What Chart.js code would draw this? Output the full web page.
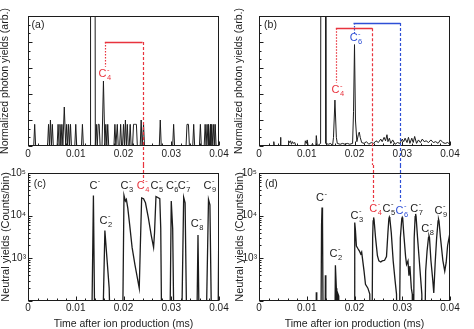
<!DOCTYPE html>
<html><head><meta charset="utf-8">
<script src="https://cdn.jsdelivr.net/npm/chart.js@4.4.1/dist/chart.umd.min.js"></script>
<style>
html,body{margin:0;padding:0;background:#fff;}
body{width:474px;height:329px;position:relative;overflow:hidden;}
canvas{position:absolute;}
</style></head><body>
<canvas id="ca" style="left:0;top:0" width="234" height="165"></canvas>
<canvas id="cb" style="left:234px;top:0" width="240" height="165"></canvas>
<canvas id="cc" style="left:0;top:165px" width="234" height="164"></canvas>
<canvas id="cd" style="left:234px;top:165px" width="240" height="164"></canvas>
<script>
// ---------------- data ----------------
const xTicks = [0, 0.01, 0.02, 0.03, 0.04];
const xTickLabels = ['0', '0.01', '0.02', '0.03', '0.04'];
const logTicks = [1000, 10000, 100000];
const logTickLabels = ['10\u00B3', '10\u2074', '10\u2075'];

// (a) photon yields, C4- only
const timeA = [
  0, 0.0012, 0.0014, 0.0016,
  0.0041, 0.0043, 0.0045, 0.0047, 0.0049, 0.0051, 0.0053,
  0.0061, 0.0063, 0.0065, 0.0067, 0.0069, 0.0071, 0.0073, 0.0076, 0.0079, 0.0081, 0.0083, 0.0085, 0.0087, 0.0089, 0.0091,
  0.0098, 0.0100, 0.0102, 0.0112, 0.0114, 0.0116,
  0.0130, 0.0131, 0.0140, 0.0141, 0.0143, 0.0145, 0.0147, 0.0149, 0.0151,
  0.0155, 0.0158, 0.0161, 0.0163, 0.0165, 0.0167, 0.0169,
  0.0180, 0.0182, 0.0184, 0.0187, 0.0189, 0.0192, 0.0194, 0.0196, 0.0198, 0.0200, 0.0202, 0.0204, 0.0206, 0.0208, 0.0210,
  0.0212, 0.0214, 0.0216, 0.0219, 0.0221, 0.0223, 0.0225, 0.0227, 0.0229, 0.0235, 0.0237, 0.0239, 0.0240, 0.0242, 0.0244,
  0.0275, 0.0277, 0.0279, 0.0303, 0.0305, 0.0307,
  0.0331, 0.0333, 0.0336, 0.0338, 0.0345, 0.0347, 0.0349, 0.0359, 0.0361, 0.0363,
  0.0369, 0.0371, 0.0373, 0.0375, 0.0377, 0.0378, 0.0380, 0.0382, 0.0383, 0.0385, 0.0387, 0.0389, 0.0391, 0.0392, 0.0394,
  0.0400
];
const yieldA = [
  0, 0, 2.5, 0,
  0, 2.5, 0, 3, 0, 2.5, 0,
  0, 2.5, 0, 2.5, 0, 2.5, 0, 4.5, 0, 2.5, 0, 2.5, 0, 2.5, 0,
  0, 2.5, 0, 0, 2.5, 0,
  0, 40, 40, 0, 2.5, 0, 2.5, 2.5, 0,
  0, 7.5, 0, 2.5, 0, 2.5, 0,
  0, 2.5, 0, 2.5, 0, 0, 2.5, 0, 0, 2.5, 0, 3, 0, 2.5, 0,
  0, 2.5, 0, 0, 2.5, 2.5, 2.5, 2.5, 0, 0, 3, 0, 0, 2.5, 0,
  0, 3, 0, 0, 2.5, 0,
  0, 2.5, 2.5, 0, 0, 2.5, 0, 0, 2.5, 0,
  0, 2.5, 0, 2.5, 0, 2.5, 0, 2.5, 0, 2.5, 0, 2.5, 0, 2.5, 0,
  0
];

// (b) photon yields, C4- and C6-
const timeB = [
  0, 0.0030, 0.0031, 0.0032, 0.0044, 0.0045, 0.0046,
  0.0061, 0.0062, 0.0064, 0.0066, 0.0068, 0.0070, 0.0072, 0.0075, 0.0077,
  0.0096, 0.0097, 0.0099, 0.0101, 0.0103, 0.0110, 0.0112, 0.0114, 0.0119, 0.0120, 0.0122,
  0.0129, 0.0130, 0.0139, 0.0140, 0.0145, 0.0150, 0.0154,
  0.0156, 0.0159, 0.0162, 0.0164, 0.0170, 0.0175, 0.0180, 0.0185, 0.0190, 0.0196,
  0.0198, 0.0200, 0.0202, 0.0205, 0.0208, 0.0210, 0.0212, 0.0215, 0.0220, 0.0225, 0.0230, 0.0235, 0.0240,
  0.0245, 0.0250, 0.0255, 0.0258, 0.0262, 0.0265, 0.0268, 0.0270, 0.0273, 0.0276, 0.0280, 0.0285, 0.0290, 0.0295,
  0.0300, 0.0303, 0.0306, 0.0310, 0.0313, 0.0316, 0.0320, 0.0323, 0.0326, 0.0330, 0.0334, 0.0338, 0.0342, 0.0346,
  0.0350, 0.0355, 0.0360, 0.0365, 0.0370, 0.0375, 0.0380, 0.0385, 0.0390, 0.0395, 0.0400
];
const yieldB = [
  0, 0, 0.5, 0, 0, 1.0, 0,
  0, 0.6, 0.4, 0.6, 0.2, 0.5, 0.3, 0.4, 0,
  0, 0.6, 0.3, 0.7, 0, 0, 0.3, 0, 0, 1.2, 0,
  0.3, 40, 40, 0.3, 0.2, 0.3, 0,
  1.0, 5.3, 1.0, 0.3, 0.2, 0.3, 0.2, 0.3, 0.2, 0.3,
  4.0, 11.7, 3.0, 0.5, 1.3, 1.6, 1.0, 0.4, 0.3, 0.5, 0.2, 0.4, 0.3,
  0.6, 0.4, 0.8, 0.5, 1.0, 0.6, 1.3, 0.5, 0.9, 0.3, 0.7, 0.2, 0.4, 0.3,
  0.8, 0.5, 0.9, 0.4, 1.0, 0.3, 0.9, 0.4, 1.1, 0.3, 0.7, 0.4, 0.8, 0.5,
  0.6, 0.4, 0.7, 0.4, 0.5, 0.3, 0.7, 0.4, 0.3, 0.4, 0.2
];

// (c) neutral yields (counts/bin), values below 100 lie off-axis
const timeC = [
  0, 0.0132, 0.0137, 0.0141,
  0.0154, 0.0161, 0.0166, 0.0170, 0.0175,
  0.0197, 0.0201, 0.0204, 0.0206, 0.0209, 0.0213, 0.0218, 0.0224, 0.0229, 0.0233,
  0.0235, 0.0238, 0.0242, 0.0246, 0.0252, 0.0258, 0.0263,
  0.0265, 0.0268, 0.0271, 0.0276, 0.0278, 0.0281,
  0.0296, 0.0300, 0.0303, 0.0307,
  0.0320, 0.0326, 0.0329, 0.0334,
  0.0352, 0.0356, 0.0360,
  0.0371, 0.0378, 0.0381, 0.0386,
  0.0397, 0.0400
];
const countsC = [
  1, 1, 29500, 1,
  1, 4500, 800, 200, 1,
  1, 30000, 22000, 24000, 15000, 6000, 1800, 700, 350, 200,
  1500, 26000, 25000, 20000, 9000, 3500, 1800,
  4000, 28000, 27000, 25000, 5000, 1,
  1, 22000, 5000, 1,
  1, 27000, 20000, 1,
  1, 3500, 1,
  1, 24000, 18000, 1,
  1, 20000
];

// (d) neutral yields (counts/bin)
const timeD = [
  0, 0.0119, 0.0120, 0.0121,
  0.0129, 0.0131, 0.0132, 0.0133, 0.0135, 0.0138, 0.0139, 0.0140,
  0.0158, 0.0160, 0.0162, 0.0163, 0.0165, 0.0167, 0.0169,
  0.0199, 0.0200, 0.0201, 0.0202, 0.0204, 0.0207, 0.0210, 0.0213, 0.0215, 0.0220, 0.0223, 0.0228, 0.0232, 0.0234,
  0.0236, 0.0238, 0.0239, 0.0240, 0.0241, 0.0244, 0.0248, 0.0251, 0.0255, 0.0258, 0.0263, 0.0267,
  0.0270, 0.0272, 0.0273, 0.0274, 0.0277, 0.0281, 0.0285, 0.0288, 0.0290,
  0.0293, 0.0296, 0.0299, 0.0300, 0.0301, 0.0303, 0.0307, 0.0309, 0.0312, 0.0314, 0.0316, 0.0319, 0.0321, 0.0322,
  0.0323, 0.0325, 0.0327, 0.0328, 0.0329, 0.0332, 0.0336, 0.0341, 0.0343,
  0.0346, 0.0349, 0.0352, 0.0355, 0.0356, 0.0357, 0.0360, 0.0364, 0.0366,
  0.0369, 0.0372, 0.0375, 0.0376, 0.0377, 0.0380, 0.0385, 0.0389, 0.0392, 0.0395, 0.0400
];
const countsD = [
  1, 1, 160, 1,
  1, 6000, 15600, 8000, 1, 1, 400, 1,
  1, 690, 200, 1, 150, 130, 1,
  1, 4000, 6900, 4500, 1950, 1700, 1500, 1260, 1400, 500, 245, 200, 145, 1,
  1, 3000, 7500, 9100, 8000, 3100, 1150, 870, 820, 870, 900, 1100,
  4000, 8500, 9300, 8500, 4000, 870, 300, 145, 1,
  1, 3000, 8500, 9100, 8500, 4000, 1100, 720, 870, 390, 660, 200, 145, 1,
  1, 3000, 9500, 11000, 9500, 3100, 800, 145, 1,
  1, 500, 1500, 3100, 3400, 3100, 900, 300, 155,
  800, 3000, 7500, 8300, 7500, 3100, 900, 500, 800, 2000, 4000
];

// ---------------- styling / drawing ----------------
const FONT = 'Arial, "Liberation Sans", Helvetica, sans-serif';
const INK = '#1c1c1c';
const RED = '#e8333d';
const BLUE = '#2e4fd6';

function pts(xs, ys) { return xs.map((x, i) => ({ x: x, y: ys[i] })); }

function drawIonLabel(ctx, cx, cy, n, color) {
  ctx.fillStyle = color;
  ctx.textBaseline = 'middle';
  ctx.textAlign = 'left';
  ctx.font = '11px ' + FONT;
  const wC = ctx.measureText('C').width;
  ctx.font = '7.5px ' + FONT;
  const wS = Math.max(ctx.measureText(n || '').width, ctx.measureText('-').width);
  const x0 = cx - (wC + wS + 0.5) / 2;
  ctx.font = '11px ' + FONT;
  ctx.fillText('C', x0, cy);
  ctx.font = '7.5px ' + FONT;
  ctx.fillText('-', x0 + wC + 0.5, cy - 4.5);
  if (n) ctx.fillText(n, x0 + wC + 0.5, cy + 4);
}

function decor(spec) {
  return {
    id: 'decor_' + spec.name,
    afterDraw(chart) {
      const ctx = chart.ctx, ca = chart.chartArea;
      const xs = chart.scales.x, ys = chart.scales.y;
      const H = chart.height;
      const yPix = v => v === 'top' ? 0 : (v === 'bottom' ? H : ys.getPixelForValue(v));
      ctx.save();
      // frame
      ctx.strokeStyle = INK; ctx.lineWidth = 1; ctx.setLineDash([]);
      const L = Math.round(ca.left) + 0.5, R = Math.round(ca.right) - 0.5;
      const T = Math.round(ca.top) + 0.5, B = Math.round(ca.bottom) - 0.5;
      ctx.strokeRect(L, T, R - L, B - T);
      // x inward ticks
      ctx.beginPath();
      for (let k = 0; k <= 20; k++) {
        const v = k * 0.002;
        const px = Math.round(xs.getPixelForValue(v)) + 0.5;
        const len = (k % 5 === 0) ? 4 : 2;
        ctx.moveTo(px, B); ctx.lineTo(px, B - len);
      }
      // y inward ticks
      if (spec.log) {
        for (let d = 2; d <= 4; d++) {
          for (let m = 1; m <= 9; m++) {
            const v = m * Math.pow(10, d);
            const py = Math.round(ys.getPixelForValue(v)) + 0.5;
            const len = m === 1 ? 4 : 2;
            ctx.moveTo(L, py); ctx.lineTo(L + len, py);
          }
        }
        const pt = Math.round(ys.getPixelForValue(1e5)) + 0.5;
        ctx.moveTo(L, pt); ctx.lineTo(L + 4, pt);
      } else {
        for (let v = 0; v <= 15; v++) {
          const py = Math.round(ys.getPixelForValue(v)) + 0.5;
          const len = (v % 3 === 0) ? 4 : 2;
          ctx.moveTo(L, py); ctx.lineTo(L + len, py);
        }
      }
      ctx.stroke();
      // vertical guide lines
      (spec.vlines || []).forEach(l => {
        ctx.strokeStyle = l.color; ctx.lineWidth = 1.2;
        ctx.setLineDash(l.dash);
        const px = Math.round(xs.getPixelForValue(l.x)) + 0.5;
        ctx.beginPath();
        ctx.moveTo(px, yPix(l.y1)); ctx.lineTo(px, yPix(l.y2));
        ctx.stroke();
      });
      ctx.setLineDash([]);
      // brackets
      (spec.brackets || []).forEach(b => {
        ctx.strokeStyle = b.color; ctx.lineWidth = 1.6;
        const py = Math.round(yPix(b.y)) + 0.5;
        ctx.beginPath();
        ctx.moveTo(xs.getPixelForValue(b.x1), py);
        ctx.lineTo(xs.getPixelForValue(b.x2), py);
        ctx.stroke();
      });
      // ion labels
      (spec.labels || []).forEach(lb => {
        drawIonLabel(ctx, xs.getPixelForValue(lb.x), yPix(lb.y), lb.n, lb.color || INK);
      });
      // panel tag
      ctx.fillStyle = INK; ctx.font = '10.5px ' + FONT;
      ctx.textAlign = 'center'; ctx.textBaseline = 'middle';
      ctx.fillText(spec.tag.text, xs.getPixelForValue(spec.tag.x), yPix(spec.tag.y));
      ctx.restore();
    }
  };
}

function makeChart(id, p) {
  const yScale = p.log ? {
    type: 'logarithmic', min: 100, max: 100000,
    grid: { display: false, drawTicks: false }, border: { display: false },
    afterBuildTicks: s => { s.ticks = logTicks.map(v => ({ value: v })); },
    ticks: { callback: (v, i) => logTickLabels[i], font: { family: FONT, size: 10 }, color: INK, padding: 2, autoSkip: false },
    title: { display: true, text: p.yTitle, font: { family: FONT, size: 11, lineHeight: 1 }, padding: 0, color: INK },
    afterFit: s => { s.width = p.yW; }
  } : {
    type: 'linear', min: 0, max: 15,
    grid: { display: false, drawTicks: false }, border: { display: false },
    ticks: { display: false },
    title: { display: true, text: p.yTitle, font: { family: FONT, size: 10.5, lineHeight: 1 }, padding: 0, color: INK },
    afterFit: s => { s.width = p.yW; }
  };
  return new Chart(document.getElementById(id), {
    type: 'line',
    data: { datasets: [{ data: pts(p.tx, p.ty), borderColor: INK, borderWidth: p.lw, pointRadius: 0, tension: 0, fill: false }] },
    options: {
      responsive: false, animation: false, devicePixelRatio: 1,
      layout: { padding: { left: 0, right: p.padR, top: p.padT, bottom: 0 } },
      plugins: { legend: { display: false }, tooltip: { enabled: false }, title: { display: false } },
      scales: {
        x: {
          type: 'linear', min: 0, max: 0.04,
          grid: { display: false, drawTicks: false }, border: { display: false },
          afterBuildTicks: s => { s.ticks = xTicks.map(v => ({ value: v })); },
          ticks: { callback: (v, i) => xTickLabels[i], font: { family: FONT, size: 10 }, color: INK, padding: p.xPad, maxRotation: 0, autoSkip: false },
          title: { display: p.xTitle, text: 'Time after ion production (ms)', font: { family: FONT, size: 10.5, lineHeight: 1 }, padding: 0, color: INK },
          afterFit: s => { s.height = p.xH; }
        },
        y: yScale
      }
    },
    plugins: [decor(p.decor)]
  });
}

makeChart('ca', {
  tx: timeA, ty: yieldA, lw: 1, log: false, yTitle: 'Normalized photon yields (arb.)',
  yW: 28, padR: 15, padT: 16, xH: 19, xPad: 2, xTitle: false,
  decor: {
    name: 'a', log: false, tag: { text: '(a)', x: 0.0021, y: 13.96 },
    brackets: [{ x1: 0.0161, x2: 0.0240, y: 12.0, color: RED }],
    vlines: [
      { x: 0.0161, y1: 12.0, y2: 9.15, color: RED, dash: [1.5, 1.5] },
      { x: 0.0240, y1: 12.0, y2: 'bottom', color: RED, dash: [3, 2] }
    ],
    labels: [{ x: 0.0161, y: 8.3, n: '4', color: RED }]
  }
});

makeChart('cb', {
  tx: timeB, ty: yieldB, lw: 1, log: false, yTitle: 'Normalized photon yields (arb.)',
  yW: 25, padR: 24, padT: 16, xH: 19, xPad: 2, xTitle: false,
  decor: {
    name: 'b', log: false, tag: { text: '(b)', x: 0.0024, y: 13.96 },
    brackets: [
      { x1: 0.0161, x2: 0.02375, y: 13.6, color: RED },
      { x1: 0.0198, x2: 0.0296, y: 14.2, color: BLUE }
    ],
    vlines: [
      { x: 0.0161, y1: 13.6, y2: 7.3, color: RED, dash: [1.5, 1.5] },
      { x: 0.02375, y1: 13.6, y2: 'bottom', color: RED, dash: [3, 2] },
      { x: 0.0198, y1: 14.2, y2: 13.0, color: BLUE, dash: [1.5, 1.5] },
      { x: 0.0296, y1: 14.2, y2: 'bottom', color: BLUE, dash: [3, 2] }
    ],
    labels: [
      { x: 0.0165, y: 6.46, n: '4', color: RED },
      { x: 0.0203, y: 12.46, n: '6', color: BLUE }
    ]
  }
});

makeChart('cc', {
  tx: timeC, ty: countsC, lw: 1.3, log: true, yTitle: 'Neutral yields (Counts/bin)',
  yW: 28, padR: 15, padT: 7, xH: 28, xPad: 1, xTitle: true,
  decor: {
    name: 'c', log: true, tag: { text: '(c)', x: 0.0025, y: 55500 },
    vlines: [{ x: 0.0240, y1: 'top', y2: 65000, color: RED, dash: [3, 2] }],
    labels: [
      { x: 0.0140, y: 50000, n: '' },
      { x: 0.0163, y: 7600, n: '2' },
      { x: 0.0207, y: 50000, n: '3' },
      { x: 0.0241, y: 50000, n: '4', color: RED },
      { x: 0.0270, y: 50000, n: '5' },
      { x: 0.0302, y: 50000, n: '6' },
      { x: 0.0327, y: 50000, n: '7' },
      { x: 0.0354, y: 6500, n: '8' },
      { x: 0.0381, y: 50000, n: '9' }
    ]
  }
});

makeChart('cd', {
  tx: timeD, ty: countsD, lw: 1.3, log: true, yTitle: 'Neutral yields (Counts/bin)',
  yW: 25, padR: 24, padT: 7, xH: 28, xPad: 1, xTitle: true,
  decor: {
    name: 'd', log: true, tag: { text: '(d)', x: 0.0026, y: 55500 },
    vlines: [
      { x: 0.0238, y1: 'top', y2: 21500, color: RED, dash: [3, 2] },
      { x: 0.0296, y1: 'top', y2: 21500, color: BLUE, dash: [3, 2] }
    ],
    labels: [
      { x: 0.0131, y: 26000, n: '' },
      { x: 0.0161, y: 1300, n: '2' },
      { x: 0.0205, y: 10000, n: '3' },
      { x: 0.0244, y: 14500, n: '4', color: RED },
      { x: 0.0272, y: 14500, n: '5' },
      { x: 0.0299, y: 13000, n: '6', color: BLUE },
      { x: 0.0330, y: 14500, n: '7' },
      { x: 0.0353, y: 5000, n: '8' },
      { x: 0.0381, y: 13000, n: '9' }
    ]
  }
});
</script>
</body></html>
